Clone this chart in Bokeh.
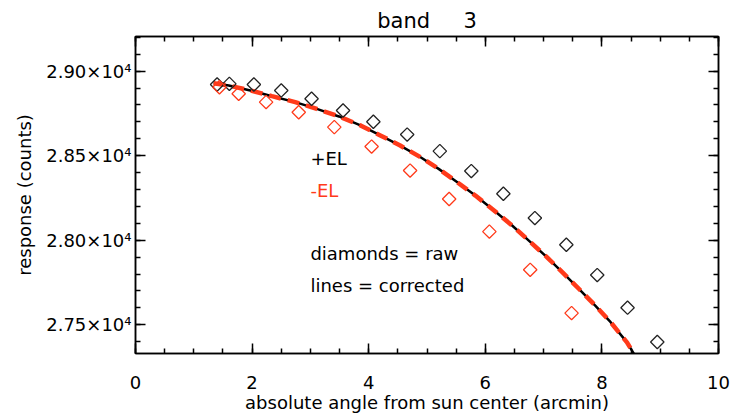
import numpy as np
from bokeh.plotting import figure
from bokeh.models import Range1d, LinearAxis, SingleIntervalTicker, Label, CustomJSTickFormatter
from bokeh.embed import file_html
from bokeh.resources import INLINE

TITLE = "band\u00a0\u00a0\u00a0\u00a0\u00a03"
X_LABEL = "absolute angle from sun center (arcmin)"
Y_LABEL = "response (counts)"

# raw +EL (black diamonds)
plus_x = [1.40, 1.61, 2.03, 2.50, 3.02, 3.56, 4.08, 4.66, 5.22, 5.76, 6.31, 6.85, 7.39, 7.92, 8.44, 8.95]
plus_y = [28921, 28925, 28921, 28886, 28837, 28767, 28701, 28625, 28527, 28409, 28275, 28131, 27973, 27794, 27601, 27398]

# raw -EL (red diamonds)
minus_x = [1.44, 1.77, 2.24, 2.80, 3.41, 4.05, 4.71, 5.38, 6.07, 6.77, 7.48]
minus_y = [28905, 28866, 28817, 28757, 28669, 28554, 28412, 28244, 28051, 27825, 27569]

# corrected curves (lines)
line_x = [1.34, 1.60, 1.97, 2.34, 2.74, 3.11, 3.49, 3.86, 4.20, 4.54, 4.89, 5.20,
          5.52, 5.83, 6.15, 6.46, 6.77, 7.06, 7.35, 7.63, 7.89, 8.15, 8.43, 8.55]
plus_line_y = [28929, 28915, 28886, 28852, 28817, 28777, 28732, 28679, 28620, 28560, 28491, 28422,
               28343, 28264, 28176, 28087, 27990, 27899, 27801, 27704, 27612, 27515, 27396, 27328]
minus_line_y = [28929, 28915, 28886, 28852, 28817, 28777, 28732, 28679, 28620, 28560, 28491, 28422,
                28343, 28264, 28176, 28087, 27990, 27899, 27801, 27704, 27612, 27515, 27396, 27328]

Y_TICKS = [27500, 28000, 28500, 29000]
Y_TICK_LABELS = ["2.75×10⁴", "2.80×10⁴", "2.85×10⁴", "2.90×10⁴"]

ANNOTATIONS = [
    ("+EL", 3.0, 28483, "black"),
    ("-EL", 3.0, 28294, "red"),
    ("diamonds = raw", 3.0, 27921, "black"),
    ("lines = corrected", 3.0, 27732, "black"),
]

RED = "#ff3a1a"
FONT = "DejaVu Sans"

p = figure(width=732, height=418, x_range=Range1d(0, 10), y_range=Range1d(27330, 29205),
           output_backend="svg", toolbar_location=None,
           min_border_left=135, min_border_right=14, min_border_top=36, min_border_bottom=65)
p.title.text = TITLE
p.title.align = "center"
p.title.text_font = FONT
p.title.text_font_size = "21px"
p.title.text_font_style = "normal"
p.title.text_color = "black"
p.title.standoff = 8

p.xgrid.visible = False
p.ygrid.visible = False
p.outline_line_color = "black"
p.outline_line_width = 1.5
p.background_fill_color = "white"
p.border_fill_color = "white"

xt = SingleIntervalTicker(interval=2, num_minor_ticks=4)
yt = SingleIntervalTicker(interval=500, num_minor_ticks=5)

xa = p.xaxis[0]
xa.ticker = xt
xa.axis_label = X_LABEL
ya = p.yaxis[0]
ya.ticker = yt
ya.axis_label = Y_LABEL
ya.major_label_overrides = {v: s for v, s in zip(Y_TICKS, Y_TICK_LABELS)}

for ax in (xa, ya):
    ax.axis_line_width = 1.5
    ax.major_tick_in = 10
    ax.major_tick_out = 0
    ax.minor_tick_in = 5
    ax.minor_tick_out = 0
    ax.major_tick_line_width = 1.5
    ax.minor_tick_line_width = 1.5
    ax.major_label_text_font = FONT
    ax.major_label_text_font_size = "18px"
    ax.axis_label_text_font = FONT
    ax.axis_label_text_font_size = "18px"
    ax.axis_label_text_font_style = "normal"
    ax.major_label_text_color = "black"
    ax.axis_label_text_color = "black"

xa.major_label_standoff = 22
xa.axis_label_standoff = 0
ya.major_label_standoff = 4
ya.axis_label_standoff = 8
ya.major_label_orientation = "horizontal"

top = LinearAxis(ticker=SingleIntervalTicker(interval=2, num_minor_ticks=4),
                 formatter=CustomJSTickFormatter(code="return ''"))
right = LinearAxis(ticker=SingleIntervalTicker(interval=500, num_minor_ticks=5),
                   formatter=CustomJSTickFormatter(code="return ''"))
for ax in (top, right):
    ax.axis_line_width = 1.5
    ax.major_tick_in = 10
    ax.major_tick_out = 0
    ax.minor_tick_in = 5
    ax.minor_tick_out = 0
    ax.major_tick_line_width = 1.5
    ax.minor_tick_line_width = 1.5
    ax.major_label_text_font_size = "0px"
    ax.major_label_standoff = 0
p.add_layout(top, "above")
p.add_layout(right, "right")

p.line(line_x, plus_line_y, line_color="black", line_width=2.5)
p.line(line_x, minus_line_y, line_color=RED, line_width=4.5, line_dash="12 7")

p.scatter(plus_x, plus_y, marker="square", angle=np.pi / 4, size=9.5,
          fill_color=None, line_color="#222222", line_width=1.3)
p.scatter(minus_x, minus_y, marker="square", angle=np.pi / 4, size=9.5,
          fill_color=None, line_color=RED, line_width=1.3)

for txt, x, y, col in ANNOTATIONS:
    p.add_layout(Label(x=x, y=y, text=txt, text_font=FONT, text_font_size="18px",
                       text_color=(RED if col == "red" else "black"), text_baseline="middle",
                       text_align="left"))

open("out.html", "w").write(file_html(p, INLINE))
